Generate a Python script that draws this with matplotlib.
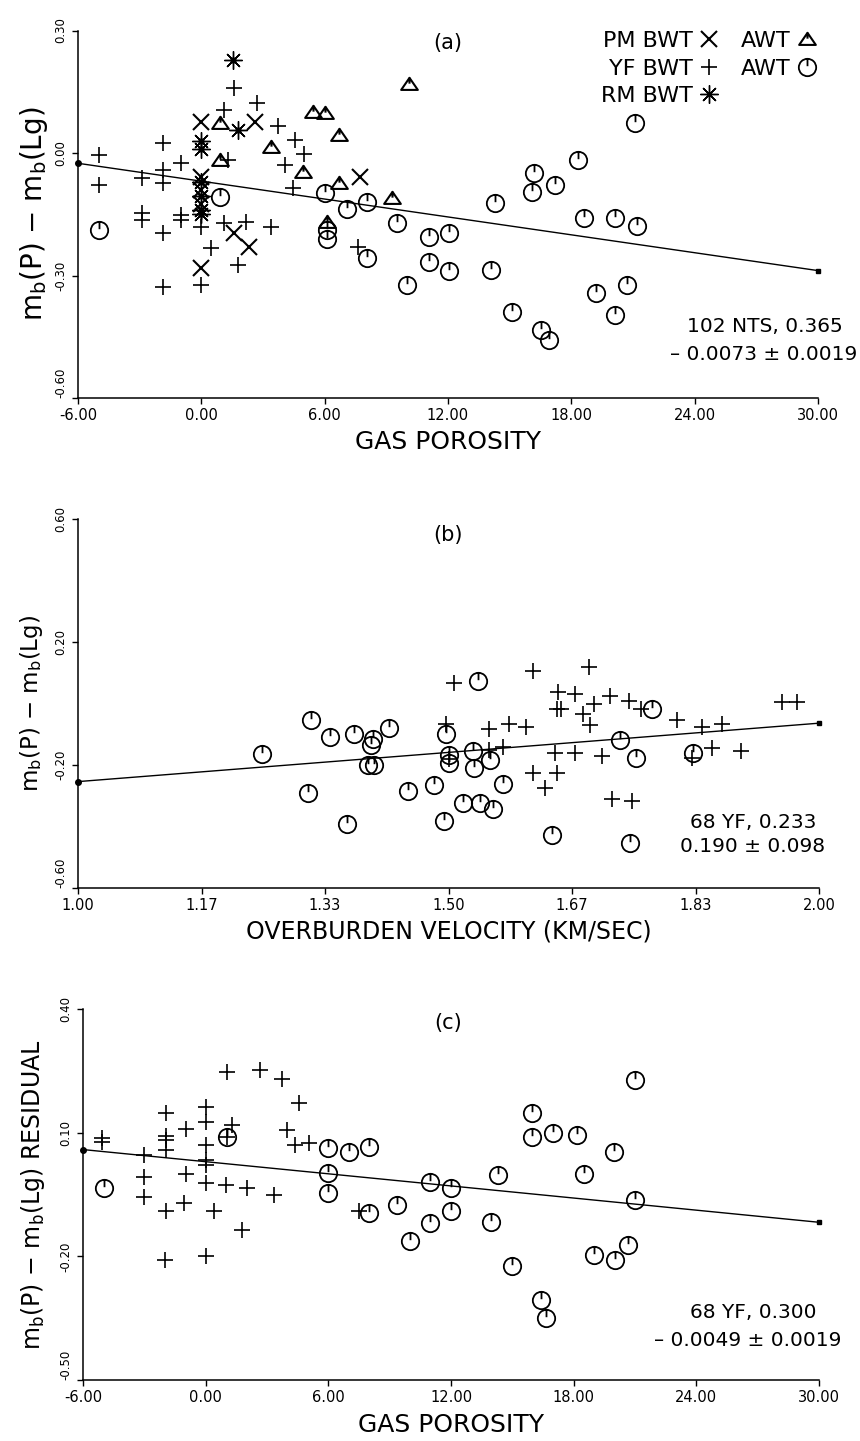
import numpy as np
import matplotlib
matplotlib.use('Agg')
import matplotlib.pyplot as plt
from matplotlib.path import Path
from matplotlib.lines import Line2D
from matplotlib.legend_handler import HandlerTuple

plt.rcParams['font.family'] = ['DejaVu Sans']

# %% data
# (a) mb(P) - mb(Lg) against gas porosity
a_pm_bwt_x = [0, 0, 0, 0, 2.6, 1.6, 2.3, 0, 7.7]
a_pm_bwt_y = [0.076, -0.058, -0.09, -0.125, 0.076, -0.196, -0.23, -0.282, -0.059]
a_rm_bwt_x = [1.55, 1.8, 0, 0, 0, 0, 0, 0]
a_rm_bwt_y = [0.228, 0.056, 0.03, 0.01, -0.07, -0.105, -0.14, -0.15]
a_yf_bwt_x = [-5.0, -5.0, -2.9, -2.9, -2.9, -1.87, -1.87, -1.87, -1.87, -1.87,
              -0.98, -0.98, -0.98, 0, 0, 0.49, 1.1, 1.1, 1.3, 1.57, 1.8, 2.15,
              2.73, 3.4, 3.74, 4.05, 4.55, 5.0, 4.44, 7.6]
a_yf_bwt_y = [-0.005, -0.078, -0.061, -0.147, -0.164, 0.025, -0.042, -0.074, -0.196, -0.328,
              -0.025, -0.152, -0.165, -0.18, -0.323, -0.233, 0.105, -0.171, -0.017, 0.16, -0.275, -0.168,
              0.122, -0.18, 0.066, -0.029, 0.032, -0.002, -0.086, -0.23]
a_pm_awt_x = [0.9, 0.9, 3.4, 5.45, 6.0, 6.7, 4.97, 6.7, 6.1, 9.27, 10.1]
a_pm_awt_y = [0.073, -0.017, 0.015, 0.1, 0.098, 0.044, -0.046, -0.074, -0.168, -0.11, 0.17]
a_yf_awt_x = [-4.98, 0.9, 6.0, 7.07, 8.05, 6.1, 6.1, 8.05, 9.5, 10.0, 11.07, 12.05, 11.07, 12.05,
              14.3, 14.1, 21.1, 18.3, 16.2, 16.1, 17.2, 18.6, 20.1, 21.2, 15.1, 19.2, 20.7, 20.1,
              16.5, 16.9]
a_yf_awt_y = [-0.189, -0.107, -0.099, -0.136, -0.119, -0.189, -0.21, -0.258, -0.172, -0.323,
              -0.205, -0.196, -0.267, -0.289, -0.123, -0.287, 0.073, -0.017, -0.05, -0.095, -0.078,
              -0.16, -0.16, -0.179, -0.39, -0.343, -0.323, -0.397, -0.434, -0.458]
a_fit = (-0.069, -0.0073)  # intercept, slope

# (b) against overburden velocity
b_yf_bwt_x = [1.507, 1.497, 1.50, 1.554, 1.581, 1.605, 1.554, 1.574, 1.614, 1.689, 1.648, 1.646,
              1.652, 1.671, 1.696, 1.718, 1.743, 1.691, 1.682, 1.76, 1.808, 1.842, 1.869, 1.95,
              1.97, 1.644, 1.671, 1.707, 1.828, 1.855, 1.895, 1.614, 1.63, 1.646, 1.72, 1.747]
b_yf_bwt_y = [0.068, -0.066, -0.18, -0.082, -0.066, -0.076, -0.151, -0.14, 0.105, 0.12, 0.036, -0.018,
              -0.018, 0.03, -0.002, 0.025, 0.009, -0.071, -0.034, -0.018, -0.055, -0.076, -0.066, 0.004,
              0.004, -0.162, -0.162, -0.172, -0.178, -0.146, -0.156, -0.226, -0.274, -0.226, -0.311, -0.316]
b_yf_awt_x = [1.248, 1.315, 1.340, 1.372, 1.398, 1.396, 1.420, 1.392, 1.400, 1.311, 1.363, 1.446,
              1.480, 1.494, 1.540, 1.497, 1.500, 1.500, 1.533, 1.534, 1.556, 1.574, 1.520, 1.542,
              1.560, 1.640, 1.731, 1.753, 1.774, 1.830, 1.745]
b_yf_awt_y = [-0.165, -0.055, -0.108, -0.098, -0.114, -0.135, -0.080, -0.199, -0.199, -0.290, -0.391,
              -0.284, -0.264, -0.382, 0.073, -0.098, -0.167, -0.194, -0.156, -0.210, -0.183, -0.263,
              -0.322, -0.322, -0.343, -0.428, -0.119, -0.178, -0.018, -0.162, -0.455]
b_fit = (-0.444, 0.190)

# (c) residual against gas porosity
c_yf_bwt_x = [-5.05, -5.05, -3.0, -3.0, -3.0, -1.95, -1.95, -1.95, -1.95, -1.95, -2.0, -0.98,
              -0.98, -1.06, 0, 0, 0, 0, 0, 0, 0, 0.4, 1.06, 1.3, 1.06, 0.98, 2.03, 1.79, 2.68,
              3.33, 3.74, 4.55, 3.98, 4.39, 5.04, 7.48]
c_yf_bwt_y = [0.086, 0.078, 0.046, -0.007, -0.055, 0.147, 0.092, 0.083, 0.058, -0.091, -0.208, 0.11,
              0.0, -0.071, 0.163, 0.127, 0.07, 0.034, 0.022, -0.023, -0.2, -0.091, 0.248, 0.118, 0.09,
              -0.027, -0.035, -0.136, 0.252, -0.051, 0.231, 0.171, 0.106, 0.07, 0.074, -0.091]
c_yf_awt_x = [-4.96, 1.06, 6.0, 6.0, 6.0, 6.99, 7.97, 7.97, 9.35, 10.0, 10.98, 10.98, 11.99, 11.99,
              14.3, 13.98, 15.0, 15.98, 15.98, 16.99, 18.16, 18.49, 19.97, 20.98, 21.02, 18.99,
              20.0, 20.65, 16.42, 16.67]
c_yf_awt_y = [-0.035, 0.09, 0.062, 0.001, -0.047, 0.054, 0.066, -0.095, -0.075, -0.164, -0.019, -0.12,
              -0.035, -0.091, -0.002, -0.116, -0.224, 0.147, 0.09, 0.098, 0.094, -0.001, 0.052, 0.228,
              -0.063, -0.196, -0.208, -0.172, -0.305, -0.35]
c_fit = (0.0296, -0.0049)

por_ticks = [-6, 0, 6, 12, 18, 24, 30]
vel_ticks = [1.0, 7 / 6, 4 / 3, 1.5, 5 / 3, 11 / 6, 2.0]

# %% custom markers: circle with a tick, triangle with a tick
clock = Path.make_compound_path(Path.unit_circle(),
                                Path([[0, 1], [0, 0.15]], [Path.MOVETO, Path.LINETO]))
tri = Path([[-1, -0.65], [1, -0.65], [0, 0.8], [-1, -0.65], [0, 0.8], [0, 0.1]],
           [Path.MOVETO, Path.LINETO, Path.LINETO, Path.CLOSEPOLY, Path.MOVETO, Path.LINETO])

sty = {
    'pm_bwt': dict(marker='x', ms=12, mew=1.5),
    'yf_bwt': dict(marker='+', ms=11, mew=1.2),
    'rm_bwt': dict(marker=(8, 2, 0), ms=13, mew=1.0),
    'pm_awt': dict(marker=tri, ms=12, mew=1.5, mfc='none'),
    'yf_awt': dict(marker=clock, ms=12.5, mew=1.3, mfc='none'),
}

W, H = 860, 1441
fig = plt.figure(figsize=(W / 100, H / 100), dpi=100)


def rect(l, t, r, b):
    return [l / W, 1 - b / H, (r - l) / W, (b - t) / H]


def pts(ax, x, y, key):
    ax.plot(x, y, linestyle='none', color='k', clip_on=False, **sty[key])


def fit_line(ax, x0, x1, fit):
    xs = np.array([x0, x1])
    ys = fit[0] + fit[1] * xs
    ax.plot(xs, ys, color='k', lw=1.0, clip_on=False)
    ax.plot(xs[:1], ys[:1], 'o', color='k', ms=4, clip_on=False)
    ax.plot(xs[1:], ys[1:], 's', color='k', ms=3.5, clip_on=False)


def style(ax, xt, xl, yt, ylim):
    ax.set_xlim(xt[0], xt[-1])
    ax.set_ylim(ylim)
    for s in ['top', 'right']:
        ax.spines[s].set_visible(False)
    for s in ['left', 'bottom']:
        ax.spines[s].set_linewidth(1.1)
    ax.set_xticks(xt, xl, fontsize=10.5)
    ax.set_yticks(yt, ['%.2f' % v for v in yt], fontsize=8.5, rotation=90, va='center')
    # lowest y label sits above its tick, clear of the x labels
    ax.get_yticklabels()[0].set_va('bottom')
    ax.tick_params(direction='out', length=4, width=1)
    ax.tick_params(axis='x', pad=3)
    ax.tick_params(axis='y', pad=4)


ylab = 'm$_\\mathregular{b}$(P) \u2212 m$_\\mathregular{b}$(Lg)'
note = dict(fontsize=14.5, ha='center', va='center')

# %% (a)
ax1 = fig.add_axes(rect(78, 30.5, 818, 398))
fit_line(ax1, -6, 30, a_fit)
pts(ax1, a_yf_bwt_x, a_yf_bwt_y, 'yf_bwt')
pts(ax1, a_pm_bwt_x, a_pm_bwt_y, 'pm_bwt')
pts(ax1, a_rm_bwt_x, a_rm_bwt_y, 'rm_bwt')
ax1.plot(a_rm_bwt_x, a_rm_bwt_y, 'o', color='k', ms=3.5, clip_on=False)
pts(ax1, a_pm_awt_x, a_pm_awt_y, 'pm_awt')
pts(ax1, a_yf_awt_x, a_yf_awt_y, 'yf_awt')
style(ax1, por_ticks, ['%.2f' % v for v in por_ticks], [-0.6, -0.3, 0.0, 0.3], (-0.6, 0.3))
ax1.set_xlabel('GAS POROSITY', fontsize=18, va='center')
ax1.xaxis.set_label_coords(0.5, -44 / 367.5)
ax1.set_ylabel(ylab, fontsize=20, va='center')
ax1.yaxis.set_label_coords(-44 / 740, 0.5)

h = lambda k: Line2D([], [], linestyle='none', color='k', **sty[k])
rm_h = (h('rm_bwt'), Line2D([], [], marker='o', ms=3, color='k', linestyle='none'))
ax1.legend([h('pm_bwt'), h('yf_bwt'), rm_h, h('pm_awt'), h('yf_awt')],
           ['PM BWT', 'YF BWT', 'RM BWT', 'AWT', 'AWT'],
           handler_map={tuple: HandlerTuple(ndivide=1)},
           ncol=2, markerfirst=False, frameon=False, fontsize=16,
           handlelength=1.0, handletextpad=0.25, columnspacing=0.9, labelspacing=0.33,
           loc='upper right', bbox_to_anchor=(1.0, 0.998), borderaxespad=0, borderpad=0)

fig.text(448 / W, 1 - 43 / H, '(a)', fontsize=15, ha='center', va='center')
fig.text(765 / W, 1 - 327 / H, '102 NTS, 0.365', **note)
fig.text(764 / W, 1 - 354 / H, '\u2013 0.0073 \u00b1 0.0019', **note)

# %% (b)
ax2 = fig.add_axes(rect(78, 519, 819, 888))
fit_line(ax2, 1.0, 2.0, b_fit)
pts(ax2, b_yf_bwt_x, b_yf_bwt_y, 'yf_bwt')
pts(ax2, b_yf_awt_x, b_yf_awt_y, 'yf_awt')
style(ax2, vel_ticks, ['%.2f' % v for v in vel_ticks], [-0.6, -0.2, 0.2, 0.6], (-0.6, 0.6))
ax2.set_xlabel('OVERBURDEN VELOCITY (KM/SEC)', fontsize=17, va='center')
ax2.xaxis.set_label_coords(0.5, -44 / 369)
ax2.set_ylabel(ylab, fontsize=16.5, va='center')
ax2.yaxis.set_label_coords(-46 / 741, 0.5)
fig.text(448 / W, 1 - 535 / H, '(b)', fontsize=15, ha='center', va='center')
fig.text(753 / W, 1 - 822 / H, '68 YF, 0.233', **note)
fig.text(753 / W, 1 - 847 / H, '0.190 \u00b1 0.098', **note)

# %% (c)
ax3 = fig.add_axes(rect(83, 1009, 819, 1380))
fit_line(ax3, -6, 30, c_fit)
pts(ax3, c_yf_bwt_x, c_yf_bwt_y, 'yf_bwt')
pts(ax3, c_yf_awt_x, c_yf_awt_y, 'yf_awt')
style(ax3, por_ticks, ['%.2f' % v for v in por_ticks], [-0.5, -0.2, 0.1, 0.4], (-0.5, 0.4))
ax3.set_xlabel('GAS POROSITY', fontsize=18, va='center')
ax3.xaxis.set_label_coords(0.5, -45 / 371)
ax3.set_ylabel(ylab + ' RESIDUAL', fontsize=17, va='center')
ax3.yaxis.set_label_coords(-50 / 736, 0.5)
fig.text(448 / W, 1 - 1023 / H, '(c)', fontsize=15, ha='center', va='center')
fig.text(753 / W, 1 - 1313 / H, '68 YF, 0.300', **note)
fig.text(748 / W, 1 - 1340 / H, '\u2013 0.0049 \u00b1 0.0019', **note)

fig.savefig('out.png', dpi=100)
